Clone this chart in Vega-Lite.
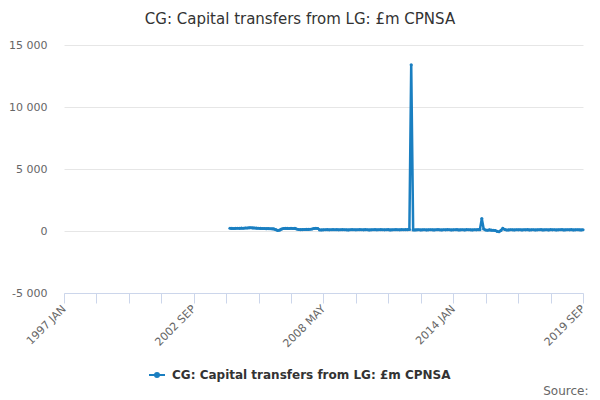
{
  "$schema": "https://vega.github.io/schema/vega-lite/v6.json",
  "width": 519,
  "height": 248,
  "autosize": {"type": "none"},
  "padding": {"left": 64, "top": 45, "right": 17, "bottom": 107},
  "background": "white",
  "config": {
    "font": "DejaVu Sans",
    "view": {"stroke": null}
  },
  "title": {
    "text": "CG: Capital transfers from LG: £m CPNSA",
    "anchor": "middle",
    "frame": "group",
    "dx": -23.5,
    "offset": 12,
    "fontSize": 15,
    "fontWeight": "normal",
    "color": "#333333"
  },
  "data": {
    "values": [
      {"date": "2004-04-01", "value": 220}, {"date": "2004-05-01", "value": 210}, {"date": "2004-06-01", "value": 200},
      {"date": "2004-07-01", "value": 215}, {"date": "2004-08-01", "value": 220}, {"date": "2004-09-01", "value": 215},
      {"date": "2004-10-01", "value": 230}, {"date": "2004-11-01", "value": 225}, {"date": "2004-12-01", "value": 245},
      {"date": "2005-01-01", "value": 240}, {"date": "2005-02-01", "value": 255}, {"date": "2005-03-01", "value": 260},
      {"date": "2005-04-01", "value": 250}, {"date": "2005-05-01", "value": 240}, {"date": "2005-06-01", "value": 230},
      {"date": "2005-07-01", "value": 220}, {"date": "2005-08-01", "value": 210}, {"date": "2005-09-01", "value": 205},
      {"date": "2005-10-01", "value": 200}, {"date": "2005-11-01", "value": 190}, {"date": "2005-12-01", "value": 195},
      {"date": "2006-01-01", "value": 180}, {"date": "2006-02-01", "value": 175}, {"date": "2006-03-01", "value": 165},
      {"date": "2006-04-01", "value": 110}, {"date": "2006-05-01", "value": 50}, {"date": "2006-06-01", "value": 70},
      {"date": "2006-07-01", "value": 150}, {"date": "2006-08-01", "value": 200}, {"date": "2006-09-01", "value": 215},
      {"date": "2006-10-01", "value": 210}, {"date": "2006-11-01", "value": 200}, {"date": "2006-12-01", "value": 220},
      {"date": "2007-01-01", "value": 205}, {"date": "2007-02-01", "value": 210}, {"date": "2007-03-01", "value": 160},
      {"date": "2007-04-01", "value": 120}, {"date": "2007-05-01", "value": 110}, {"date": "2007-06-01", "value": 115},
      {"date": "2007-07-01", "value": 120}, {"date": "2007-08-01", "value": 125}, {"date": "2007-09-01", "value": 130},
      {"date": "2007-10-01", "value": 140}, {"date": "2007-11-01", "value": 160}, {"date": "2007-12-01", "value": 200},
      {"date": "2008-01-01", "value": 220}, {"date": "2008-02-01", "value": 200}, {"date": "2008-03-01", "value": 90},
      {"date": "2008-04-01", "value": 85}, {"date": "2008-05-01", "value": 95}, {"date": "2008-06-01", "value": 100},
      {"date": "2008-07-01", "value": 105}, {"date": "2008-08-01", "value": 95}, {"date": "2008-09-01", "value": 100},
      {"date": "2008-10-01", "value": 110}, {"date": "2008-11-01", "value": 100}, {"date": "2008-12-01", "value": 105},
      {"date": "2009-01-01", "value": 95}, {"date": "2009-02-01", "value": 100}, {"date": "2009-03-01", "value": 110},
      {"date": "2009-04-01", "value": 100}, {"date": "2009-05-01", "value": 95}, {"date": "2009-06-01", "value": 90},
      {"date": "2009-07-01", "value": 100}, {"date": "2009-08-01", "value": 105}, {"date": "2009-09-01", "value": 100},
      {"date": "2009-10-01", "value": 95}, {"date": "2009-11-01", "value": 100}, {"date": "2009-12-01", "value": 110},
      {"date": "2010-01-01", "value": 100}, {"date": "2010-02-01", "value": 95}, {"date": "2010-03-01", "value": 105},
      {"date": "2010-04-01", "value": 100}, {"date": "2010-05-01", "value": 90}, {"date": "2010-06-01", "value": 95},
      {"date": "2010-07-01", "value": 100}, {"date": "2010-08-01", "value": 105}, {"date": "2010-09-01", "value": 95},
      {"date": "2010-10-01", "value": 100}, {"date": "2010-11-01", "value": 105}, {"date": "2010-12-01", "value": 100},
      {"date": "2011-01-01", "value": 95}, {"date": "2011-02-01", "value": 100}, {"date": "2011-03-01", "value": 110},
      {"date": "2011-04-01", "value": 90}, {"date": "2011-05-01", "value": 95}, {"date": "2011-06-01", "value": 100},
      {"date": "2011-07-01", "value": 105}, {"date": "2011-08-01", "value": 100}, {"date": "2011-09-01", "value": 95},
      {"date": "2011-10-01", "value": 110}, {"date": "2011-11-01", "value": 100}, {"date": "2011-12-01", "value": 105},
      {"date": "2012-01-01", "value": 110}, {"date": "2012-02-01", "value": 120}, {"date": "2012-03-01", "value": 13400},
      {"date": "2012-04-01", "value": 90}, {"date": "2012-05-01", "value": 85}, {"date": "2012-06-01", "value": 95},
      {"date": "2012-07-01", "value": 100}, {"date": "2012-08-01", "value": 90}, {"date": "2012-09-01", "value": 95},
      {"date": "2012-10-01", "value": 100}, {"date": "2012-11-01", "value": 90}, {"date": "2012-12-01", "value": 95},
      {"date": "2013-01-01", "value": 100}, {"date": "2013-02-01", "value": 95}, {"date": "2013-03-01", "value": 90},
      {"date": "2013-04-01", "value": 100}, {"date": "2013-05-01", "value": 105}, {"date": "2013-06-01", "value": 95},
      {"date": "2013-07-01", "value": 90}, {"date": "2013-08-01", "value": 100}, {"date": "2013-09-01", "value": 95},
      {"date": "2013-10-01", "value": 105}, {"date": "2013-11-01", "value": 100}, {"date": "2013-12-01", "value": 90},
      {"date": "2014-01-01", "value": 95}, {"date": "2014-02-01", "value": 100}, {"date": "2014-03-01", "value": 105},
      {"date": "2014-04-01", "value": 90}, {"date": "2014-05-01", "value": 95}, {"date": "2014-06-01", "value": 100},
      {"date": "2014-07-01", "value": 90}, {"date": "2014-08-01", "value": 105}, {"date": "2014-09-01", "value": 100},
      {"date": "2014-10-01", "value": 95}, {"date": "2014-11-01", "value": 90}, {"date": "2014-12-01", "value": 100},
      {"date": "2015-01-01", "value": 95}, {"date": "2015-02-01", "value": 110}, {"date": "2015-03-01", "value": 100},
      {"date": "2015-04-01", "value": 1000}, {"date": "2015-05-01", "value": 160}, {"date": "2015-06-01", "value": 80},
      {"date": "2015-07-01", "value": 60}, {"date": "2015-08-01", "value": 90}, {"date": "2015-09-01", "value": 70},
      {"date": "2015-10-01", "value": 60}, {"date": "2015-11-01", "value": 40}, {"date": "2015-12-01", "value": -30},
      {"date": "2016-01-01", "value": -60}, {"date": "2016-02-01", "value": 50}, {"date": "2016-03-01", "value": 220},
      {"date": "2016-04-01", "value": 120}, {"date": "2016-05-01", "value": 80}, {"date": "2016-06-01", "value": 90},
      {"date": "2016-07-01", "value": 100}, {"date": "2016-08-01", "value": 95}, {"date": "2016-09-01", "value": 90},
      {"date": "2016-10-01", "value": 100}, {"date": "2016-11-01", "value": 95}, {"date": "2016-12-01", "value": 100},
      {"date": "2017-01-01", "value": 90}, {"date": "2017-02-01", "value": 100}, {"date": "2017-03-01", "value": 95},
      {"date": "2017-04-01", "value": 105}, {"date": "2017-05-01", "value": 90}, {"date": "2017-06-01", "value": 95},
      {"date": "2017-07-01", "value": 100}, {"date": "2017-08-01", "value": 90}, {"date": "2017-09-01", "value": 95},
      {"date": "2017-10-01", "value": 100}, {"date": "2017-11-01", "value": 105}, {"date": "2017-12-01", "value": 90},
      {"date": "2018-01-01", "value": 95}, {"date": "2018-02-01", "value": 100}, {"date": "2018-03-01", "value": 90},
      {"date": "2018-04-01", "value": 105}, {"date": "2018-05-01", "value": 95}, {"date": "2018-06-01", "value": 100},
      {"date": "2018-07-01", "value": 90}, {"date": "2018-08-01", "value": 95}, {"date": "2018-09-01", "value": 100},
      {"date": "2018-10-01", "value": 105}, {"date": "2018-11-01", "value": 90}, {"date": "2018-12-01", "value": 95},
      {"date": "2019-01-01", "value": 100}, {"date": "2019-02-01", "value": 95}, {"date": "2019-03-01", "value": 105},
      {"date": "2019-04-01", "value": 90}, {"date": "2019-05-01", "value": 95}, {"date": "2019-06-01", "value": 100},
      {"date": "2019-07-01", "value": 95}, {"date": "2019-08-01", "value": 90}, {"date": "2019-09-01", "value": 100}
    ]
  },
  "mark": {
    "type": "line",
    "strokeWidth": 2.5,
    "point": {"filled": true, "size": 10},
    "clip": false
  },
  "encoding": {
    "x": {
      "field": "date",
      "type": "temporal",
      "scale": {
        "type": "utc",
        "domain": [
          {"year": 1997, "month": 1, "date": 1, "utc": true},
          {"year": 2019, "month": 9, "date": 1, "utc": true}
        ]
      },
      "axis": {
        "title": "Source:",
        "titleX": 524,
        "titleY": 97,
        "titleAlign": "right",
        "titleBaseline": "middle",
        "titleFontSize": 12,
        "titleFontWeight": "normal",
        "titleColor": "#666666",
        "titleAngle": 0,
        "values": [
          {"year": 1997, "month": 1, "date": 1, "utc": true},
          {"year": 1998, "month": 6, "date": 1, "utc": true},
          {"year": 1999, "month": 11, "date": 1, "utc": true},
          {"year": 2001, "month": 4, "date": 1, "utc": true},
          {"year": 2002, "month": 9, "date": 1, "utc": true},
          {"year": 2004, "month": 2, "date": 1, "utc": true},
          {"year": 2005, "month": 7, "date": 1, "utc": true},
          {"year": 2006, "month": 12, "date": 1, "utc": true},
          {"year": 2008, "month": 5, "date": 1, "utc": true},
          {"year": 2009, "month": 10, "date": 1, "utc": true},
          {"year": 2011, "month": 3, "date": 1, "utc": true},
          {"year": 2012, "month": 8, "date": 1, "utc": true},
          {"year": 2014, "month": 1, "date": 1, "utc": true},
          {"year": 2015, "month": 6, "date": 1, "utc": true},
          {"year": 2016, "month": 11, "date": 1, "utc": true},
          {"year": 2018, "month": 4, "date": 1, "utc": true},
          {"year": 2019, "month": 9, "date": 1, "utc": true}
        ],
        "labelExpr": "indexof(['1997 JAN','2002 SEP','2008 MAY','2014 JAN','2019 SEP'], upper(utcFormat(datum.value, '%Y %b'))) >= 0 ? upper(utcFormat(datum.value, '%Y %b')) : ''",
        "labelAngle": -45,
        "labelAlign": "right",
        "labelBaseline": "middle",
        "labelPadding": 4,
        "labelOverlap": false,
        "labelBound": false,
        "labelFlush": false,
        "labelColor": "#666666",
        "labelFontSize": 11,
        "domainColor": "#ccd6eb",
        "tickColor": "#ccd6eb",
        "tickSize": 10,
        "grid": false,
        "zindex": 1
      }
    },
    "y": {
      "field": "value",
      "type": "quantitative",
      "scale": {"domain": [-5000, 15000], "nice": false, "zero": false},
      "axis": {
        "title": null,
        "values": [-5000, 0, 5000, 10000, 15000],
        "labelExpr": "replace(replace(format(datum.value, ','), ',', ' '), '\u2212', '-')",
        "labelColor": "#666666",
        "labelFontSize": 11,
        "labelPadding": 17,
        "domain": false,
        "ticks": false,
        "grid": true,
        "gridColor": "#e6e6e6",
        "gridWidth": 1
      }
    },
    "color": {
      "datum": "CG: Capital transfers from LG: £m CPNSA",
      "type": "nominal",
      "scale": {"range": ["#1a7fc1"]},
      "legend": {
        "title": null,
        "orient": "none",
        "legendX": 84,
        "legendY": 321,
        "labelFontSize": 12,
        "labelFontWeight": "bold",
        "labelColor": "#333333",
        "labelLimit": 500,
        "symbolType": "M-1,0L1,0M-0.25,0a0.25,0.25 0 1,0 0.5,0a0.25,0.25 0 1,0 -0.5,0",
        "symbolSize": 256,
        "symbolStrokeWidth": 2,
        "labelOffset": 6
      }
    }
  }
}
